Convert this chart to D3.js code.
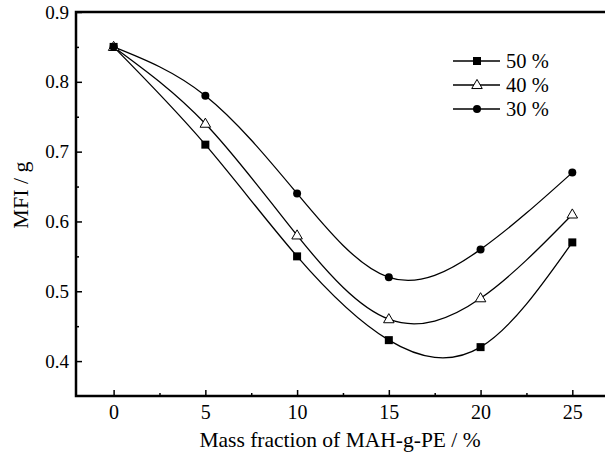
<!DOCTYPE html>
<html>
<head>
<meta charset="utf-8">
<script src="https://cdn.jsdelivr.net/npm/d3@7"></script>
<style>
  body { margin: 0; background: #fff; }
  svg text { font-family: "Liberation Serif", "Times New Roman", serif; fill: #000; }
</style>
</head>
<body>
<div id="chart"></div>
<script>
// data
const massFraction = [0, 5, 10, 15, 20, 25];
const mfi50 = [0.85, 0.71, 0.55, 0.43, 0.42, 0.57];
const mfi40 = [0.85, 0.74, 0.58, 0.46, 0.49, 0.61];
const mfi30 = [0.85, 0.78, 0.64, 0.52, 0.56, 0.67];
const seriesNames = ["50 %", "40 %", "30 %"];
const xTicks = [0, 5, 10, 15, 20, 25];
const yTicks = [0.4, 0.5, 0.6, 0.7, 0.8, 0.9];

(function () {
    const W = 605, H = 454;
    const margin = { top: 12, left: 76, bottom: 58 };
    const width = 533, height = H - margin.top - margin.bottom;

    const svg = d3.select("#chart").append("svg")
        .attr("width", W).attr("height", H);
    const g = svg.append("g")
        .attr("transform", `translate(${margin.left},${margin.top})`);

    const x = d3.scaleLinear().domain([-2.05, 27]).range([0, width]);
    const y = d3.scaleLinear().domain([0.35, 0.9]).range([height, 0]);

    // inward ticks, major + minor
    g.append("g").attr("class", "axis").attr("transform", `translate(0,${height})`)
        .call(d3.axisBottom(x).tickValues(xTicks).tickSizeInner(-6).tickSizeOuter(0).tickPadding(9))
        .selectAll(".tick text").style("font-size", "20px");
    g.append("g").attr("transform", `translate(0,${height})`)
        .call(d3.axisBottom(x).tickValues(d3.range(0, 27, 2.5).filter(v => v % 5 !== 0))
            .tickSizeInner(-3).tickSizeOuter(0).tickFormat(""));
    g.append("g").attr("class", "axis")
        .call(d3.axisLeft(y).tickValues(yTicks).tickSizeInner(-6).tickSizeOuter(0).tickPadding(7)
            .tickFormat(d3.format(".1f")))
        .selectAll(".tick text").style("font-size", "19px");
    g.append("g")
        .call(d3.axisLeft(y).tickValues([0.45, 0.55, 0.65, 0.75, 0.85])
            .tickSizeInner(-3).tickSizeOuter(0).tickFormat(""));

    g.selectAll("g").attr("font-family", "Liberation Serif");
    g.selectAll(".domain").remove();
    g.selectAll(".tick line").attr("stroke", "#000").attr("stroke-width", 1.5);

    // frame
    g.append("rect").attr("x", 0).attr("y", 0).attr("width", width).attr("height", height)
        .attr("fill", "none").attr("stroke", "#000").attr("stroke-width", 2.5);

    const series = [mfi50, mfi40, mfi30];
    const line = d3.line().curve(d3.curveNatural)
        .x((d, i) => x(massFraction[i])).y(d => y(d));

    series.forEach(s => {
        g.append("path").datum(s).attr("d", line)
            .attr("fill", "none").attr("stroke", "#000").attr("stroke-width", 1.3);
    });

    function marker(sel, k, cx, cy) {
        if (k === 0) {
            sel.append("rect").attr("x", cx - 4).attr("y", cy - 4).attr("width", 8).attr("height", 8)
                .attr("fill", "#000");
        } else if (k === 1) {
            sel.append("path").attr("d", d3.symbol(d3.symbolTriangle, 48)())
                .attr("transform", `translate(${cx},${cy + 0.5})`)
                .attr("fill", "#fff").attr("stroke", "#000").attr("stroke-width", 1);
        } else {
            sel.append("circle").attr("cx", cx).attr("cy", cy).attr("r", 4).attr("fill", "#000");
        }
    }

    series.forEach((s, k) => {
        s.forEach((v, i) => marker(g, k, x(massFraction[i]), y(v)));
    });

    // legend
    const legend = g.append("g").attr("transform", "translate(377,49)");
    seriesNames.forEach((name, k) => {
        const ly = k * 24;
        legend.append("line").attr("x1", 0).attr("x2", 47).attr("y1", ly).attr("y2", ly)
            .attr("stroke", "#000").attr("stroke-width", 1.3);
        marker(legend, k, 24, ly);
        legend.append("text").attr("x", 53).attr("y", ly + 7).style("font-size", "20.5px").text(name);
    });

    // axis titles
    svg.append("text").attr("x", 340).attr("y", 447).attr("text-anchor", "middle")
        .style("font-size", "21.5px").text("Mass fraction of MAH-g-PE / %");
    svg.append("text").attr("transform", "translate(28,195) rotate(-90)").attr("text-anchor", "middle")
        .style("font-size", "22px").text("MFI / g");
})();
</script>
</body>
</html>
